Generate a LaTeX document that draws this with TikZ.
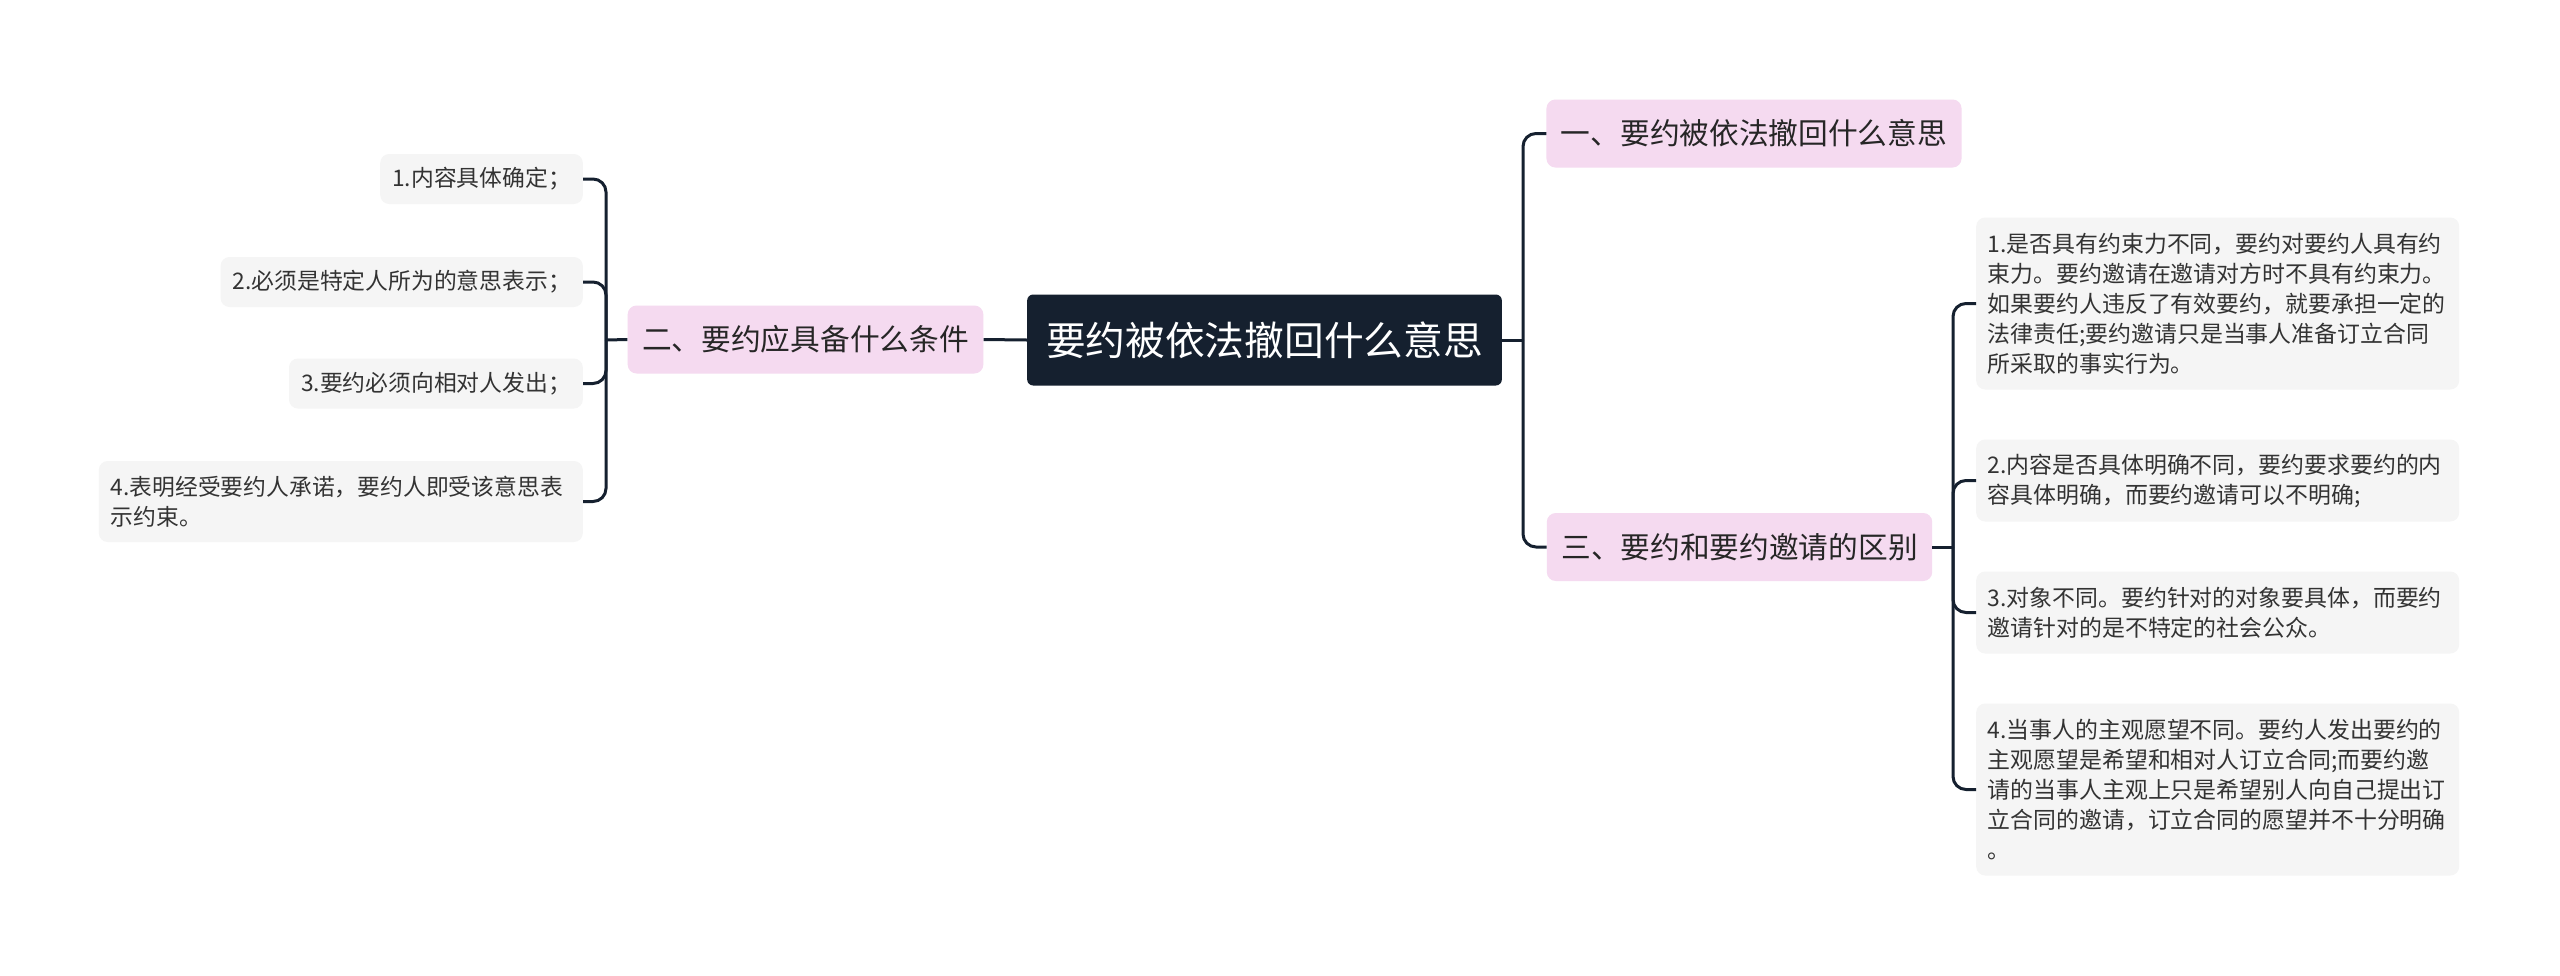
\documentclass[tikz,border=0pt]{standalone}
\usepackage{fontspec}
\newfontfamily\cjk{Noto Sans CJK SC}
\definecolor{rootnavy}{HTML}{15202F}
\definecolor{branchpink}{HTML}{F5DAF0}
\definecolor{leafgray}{HTML}{F5F5F5}
\definecolor{textgray}{HTML}{333333}

\begin{document}
\begin{tikzpicture}[x=1pt, y=-1pt,
    rootbox/.style={fill=rootnavy, text=white, rounded corners=6pt, inner xsep=19pt, inner ysep=0pt, minimum height=91pt, font=\cjk\fontsize{39.7pt}{44pt}\selectfont},
    branchbox/.style={fill=branchpink, text=black!85, rounded corners=9pt, inner xsep=14.5pt, inner ysep=0pt, minimum height=68pt, font=\cjk\fontsize{29.7pt}{34pt}\selectfont},
    leftleaf/.style={fill=leafgray, text=textgray, rounded corners=9pt, inner xsep=12pt, inner ysep=0pt, minimum height=50pt, align=left, anchor=east, font=\cjk\fontsize{22.8pt}{30pt}\selectfont},
    rightleaf/.style={fill=leafgray, text=textgray, rounded corners=9pt, inner xsep=11.5pt, inner ysep=0pt, text width=460pt, align=left, anchor=west, font=\cjk\fontsize{22.9pt}{30pt}\selectfont},
    link/.style={draw=rootnavy, line width=3pt},
    hook/.style={link, rounded corners=13pt}]

    % Fix the page to the size of the map
    \fill[white] (0,0) rectangle (2560,975);
    \useasboundingbox (0,0) rectangle (2560,975);

    % Central topic and its three branches
    \node[rootbox] (root) at (1264.5,340) {要约被依法撤回什么意思};
    \node[branchbox] (b1) at (1754,133.5) {一、要约被依法撤回什么意思};
    \node[branchbox] (b2) at (805.5,339.5) {二、要约应具备什么条件};
    \node[branchbox] (b3) at (1739.5,547) {三、要约和要约邀请的区别};

    % Leaves of branch two, on the left
    \node[leftleaf] (l1) at (583,179) {1.内容具体确定；};
    \node[leftleaf] (l2) at (583,282) {2.必须是特定人所为的意思表示；};
    \node[leftleaf] (l3) at (583,383.5) {3.要约必须向相对人发出；};
    \node[leftleaf, text width=460pt, minimum height=81pt] (l4) at (583,501.5) {4.表明经受要约人承诺，要约人即受该意思表\\示约束。};

    % Leaves of branch three, on the right
    \node[rightleaf, minimum height=172pt] (r1) at (1976,303.5) {1.是否具有约束力不同，要约对要约人具有约\\束力。要约邀请在邀请对方时不具有约束力。\\如果要约人违反了有效要约，就要承担一定的\\法律责任;要约邀请只是当事人准备订立合同\\所采取的事实行为。};
    \node[rightleaf, minimum height=82pt] (r2) at (1976,480.5) {2.内容是否具体明确不同，要约要求要约的内\\容具体明确，而要约邀请可以不明确;};
    \node[rightleaf, minimum height=82pt] (r3) at (1976,612.5) {3.对象不同。要约针对的对象要具体，而要约\\邀请针对的是不特定的社会公众。};
    \node[rightleaf, minimum height=172pt] (r4) at (1976,789.5) {4.当事人的主观愿望不同。要约人发出要约的\\主观愿望是希望和相对人订立合同;而要约邀\\请的当事人主观上只是希望别人向自己提出订\\立合同的邀请，订立合同的愿望并不十分明确\\。};

    % Junction points of the brackets
    \coordinate (jl) at (606,340);
    \coordinate (jr) at (1523,340);
    \coordinate (jb) at (1953,547);

    % Connectors
    \draw[link] (root.west) -- (b2.east);
    \draw[link] (b2.west) -- (jl);
    \foreach \n in {l1,l2,l3,l4}
        \draw[hook] (jl) |- (\n.east);
    \draw[link] (root.east) -- (jr);
    \foreach \n in {b1,b3}
        \draw[hook] (jr) |- (\n.west);
    \draw[link] (b3.east) -- (jb);
    \foreach \n in {r1,r2,r3,r4}
        \draw[hook] (jb) |- (\n.west);

\end{tikzpicture}
\end{document}
